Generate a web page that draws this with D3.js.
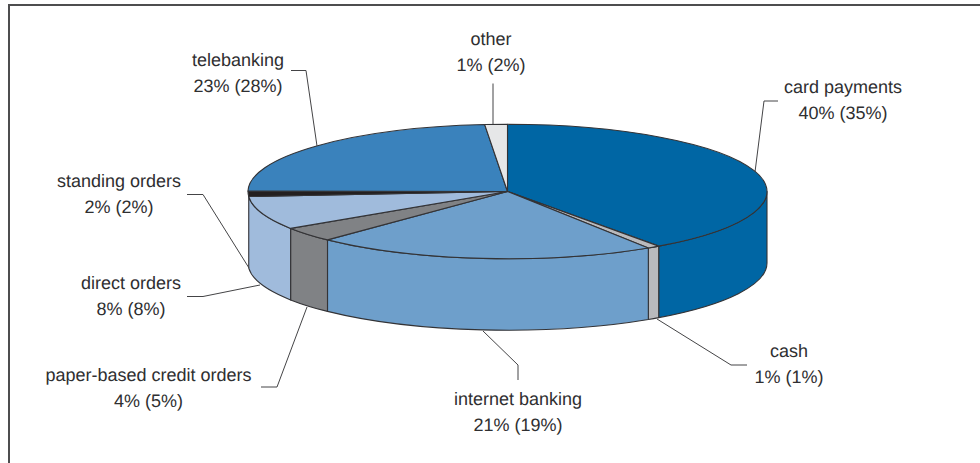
<!DOCTYPE html>
<html><head><meta charset="utf-8">
<script src="https://cdnjs.cloudflare.com/ajax/libs/d3/7.8.5/d3.min.js"></script>
<style>html,body{margin:0;padding:0;background:#fff}svg{display:block}</style>
</head><body><div id="c"></div>
<script>
const categories = ["card payments","cash","internet banking","paper-based credit orders","direct orders","standing orders","telebanking","other"];
const sharesNow  = [40,1,21,4,8,2,23,1];
const sharesPrev = [35,1,19,5,8,2,28,2];
// slice sweep as measured on the drawing (percent of the circle)
const drawnSweep = [40.1,0.77,21.33,3.55,8.05,1.3,23.5,1.4];
const colors = ["#0066a4","#b9babd","#6e9fcb","#808285","#a0bbdc","#231f20","#3a82bc","#e6e7e8"];

const W=980,H=463,cx=507.5,cy=191.5,rx=259.5,ry=67.2,depth=71.5;
const labelLayout = [
 {x:843,y:92.5,pts:[[778,101],[764,101],[755,172]]},
 {x:789,y:357,pts:[[747,365],[731,365],[657,319]]},
 {x:518,y:405,pts:[[518,380],[518,365],[483,331]]},
 {x:148.5,y:381,pts:[[261,387],[277,387],[307,307]]},
 {x:131,y:289,pts:[[187,296.5],[203,296.5],[260,285]]},
 {x:119,y:187,pts:[[187,194.5],[203,194.5],[249,268]]},
 {x:238,y:65.5,pts:[[291,70.5],[306,70.5],[317,146]]},
 {x:491,y:45,pts:[[493,83.5],[493,124]]}
];

const svg=d3.select("#c").append("svg").attr("width",W).attr("height",H);
svg.append("path").attr("d",`M9,${H}V5H${W}`).attr("fill","none").attr("stroke","#4d4d4f").attr("stroke-width",2);

const arcs=d3.pie().sort(null).value(d=>d)(drawnSweep);
const px=a=>cx+rx*Math.sin(a), py=a=>cy-ry*Math.cos(a);
const lo=Math.PI/2, hi=arcs[5].startAngle; // the thin standing-orders slice shows no wall
const strokeC="#333336";

const walls=arcs.map((d,i)=>({a0:Math.max(d.startAngle,lo),a1:Math.min(d.endAngle,hi),i})).filter(d=>d.a1>d.a0);
svg.append("g").selectAll("path").data(walls).join("path")
 .attr("d",d=>`M${px(d.a0)},${py(d.a0)}A${rx},${ry} 0 0 1 ${px(d.a1)},${py(d.a1)}`+
          `L${px(d.a1)},${py(d.a1)+depth}A${rx},${ry} 0 0 0 ${px(d.a0)},${py(d.a0)+depth}Z`)
 .attr("fill",d=>colors[d.i]).attr("stroke",strokeC).attr("stroke-width",1.1).attr("stroke-linejoin","round");

const arc=d3.arc().innerRadius(0).outerRadius(rx);
svg.append("g").attr("transform",`translate(${cx},${cy}) scale(1,${ry/rx})`)
 .selectAll("path").data(arcs).join("path")
 .attr("d",arc).attr("fill",(d,i)=>colors[i])
 .attr("stroke",strokeC).attr("stroke-width",1.1).attr("vector-effect","non-scaling-stroke").attr("stroke-linejoin","round");

const line=d3.line();
svg.append("g").selectAll("path").data(labelLayout).join("path")
 .attr("d",d=>line(d.pts)).attr("fill","none").attr("stroke","#444446").attr("stroke-width",1);

const t=svg.append("g").attr("font-family","'Liberation Sans',Arial,sans-serif").attr("font-size",18).attr("fill","#2f2f31").attr("text-anchor","middle").style("text-rendering","geometricPrecision");
categories.forEach((c,i)=>{
  const L=labelLayout[i];
  t.append("text").attr("x",L.x).attr("y",L.y).text(c);
  t.append("text").attr("x",L.x).attr("y",L.y+26).text(`${sharesNow[i]}% (${sharesPrev[i]}%)`);
});
</script></body></html>
